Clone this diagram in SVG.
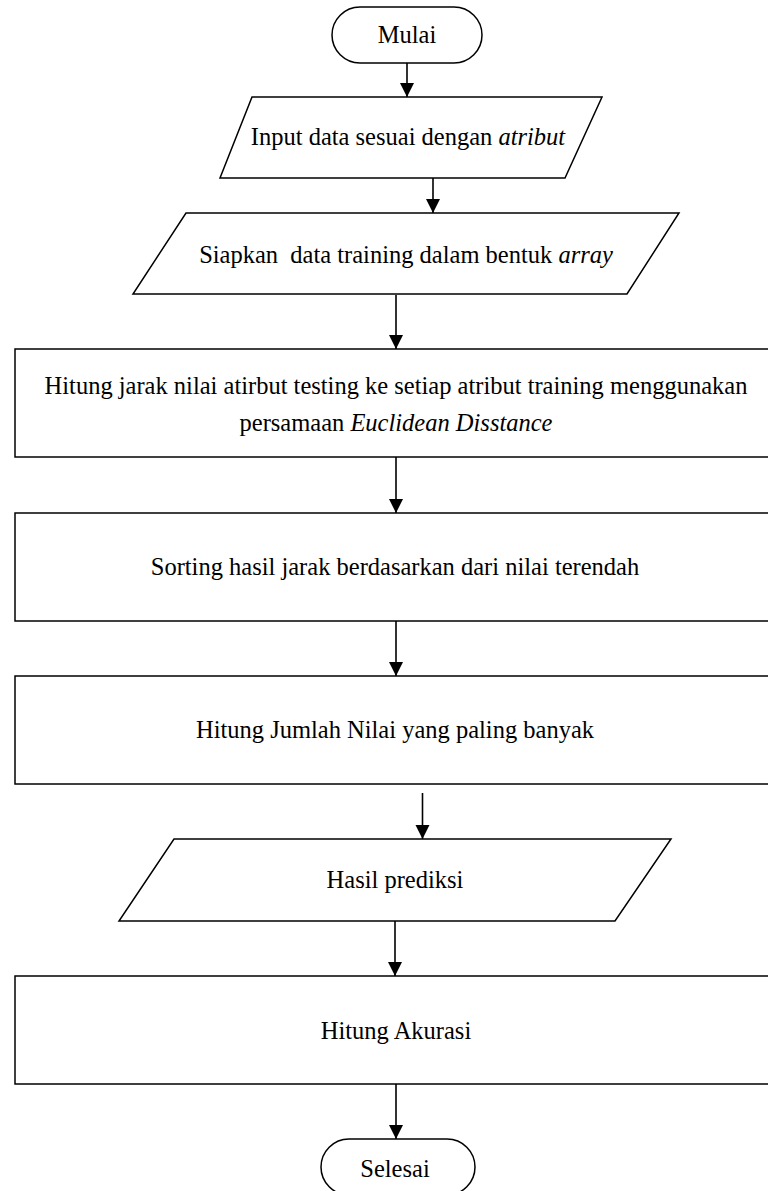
<svg xmlns="http://www.w3.org/2000/svg" width="768" height="1191" viewBox="0 0 768 1191">
  <style>
    .shape { fill: #ffffff; stroke: #000000; stroke-width: 1.5; }
    .label { font-family: "Liberation Serif", "Times New Roman", serif; font-size: 24.5px; fill: #000000; text-anchor: middle; }
    .it { font-style: italic; }
    .flow { stroke: #000000; stroke-width: 1.6; fill: none; marker-end: url(#arrow); }
  </style>
  <defs>
    <marker id="arrow" markerUnits="userSpaceOnUse" markerWidth="14" markerHeight="16" refX="14" refY="7" orient="auto" viewBox="0 0 14 14">
      <path d="M0,0 L14,7 L0,14 Z" fill="#000000"/>
    </marker>
  </defs>
  <rect width="768" height="1191" fill="#ffffff"/>

  <g id="connectors">
    <line class="flow" x1="407" y1="63" x2="407" y2="97"/>
    <line class="flow" x1="433" y1="178" x2="433" y2="213"/>
    <line class="flow" x1="396" y1="295" x2="396" y2="349"/>
    <line class="flow" x1="396" y1="457" x2="396" y2="513"/>
    <line class="flow" x1="396" y1="621" x2="396" y2="676"/>
    <line class="flow" x1="422.5" y1="793" x2="422.5" y2="839"/>
    <line class="flow" x1="395" y1="921" x2="395" y2="976"/>
    <line class="flow" x1="396" y1="1084" x2="396" y2="1139"/>
  </g>

  <g id="mulai">
    <rect class="shape" x="332" y="7" width="150" height="56" rx="28" ry="28"/>
    <text class="label" x="407" y="43">Mulai</text>
  </g>

  <g id="input-data">
    <polygon class="shape" points="252,97 602,97 565,178 220,178"/>
    <text class="label" x="408" y="145">Input data sesuai dengan <tspan class="it">atribut</tspan></text>
  </g>

  <g id="siapkan-data">
    <polygon class="shape" points="186,213 679,213 627,294 133,294"/>
    <text class="label" x="406" y="263" xml:space="preserve">Siapkan  data training dalam bentuk <tspan class="it">array</tspan></text>
  </g>

  <g id="hitung-jarak">
    <rect class="shape" x="15" y="349" width="762" height="108"/>
    <text class="label" x="396" y="394">Hitung jarak nilai atirbut testing ke setiap atribut training menggunakan</text>
    <text class="label" x="396" y="431">persamaan <tspan class="it">Euclidean Disstance</tspan></text>
  </g>

  <g id="sorting">
    <rect class="shape" x="15" y="513" width="762" height="108"/>
    <text class="label" x="395" y="575">Sorting hasil jarak berdasarkan dari nilai terendah</text>
  </g>

  <g id="hitung-jumlah">
    <rect class="shape" x="15" y="676" width="762" height="108"/>
    <text class="label" x="395" y="738">Hitung Jumlah Nilai yang paling banyak</text>
  </g>

  <g id="hasil-prediksi">
    <polygon class="shape" points="174,839 671,839 615,921 119,921"/>
    <text class="label" x="395" y="888">Hasil prediksi</text>
  </g>

  <g id="hitung-akurasi">
    <rect class="shape" x="15" y="976" width="762" height="108"/>
    <text class="label" x="396" y="1039">Hitung Akurasi</text>
  </g>

  <g id="selesai">
    <rect class="shape" x="321" y="1139" width="154" height="56" rx="28" ry="28"/>
    <text class="label" x="395" y="1177">Selesai</text>
  </g>
</svg>
